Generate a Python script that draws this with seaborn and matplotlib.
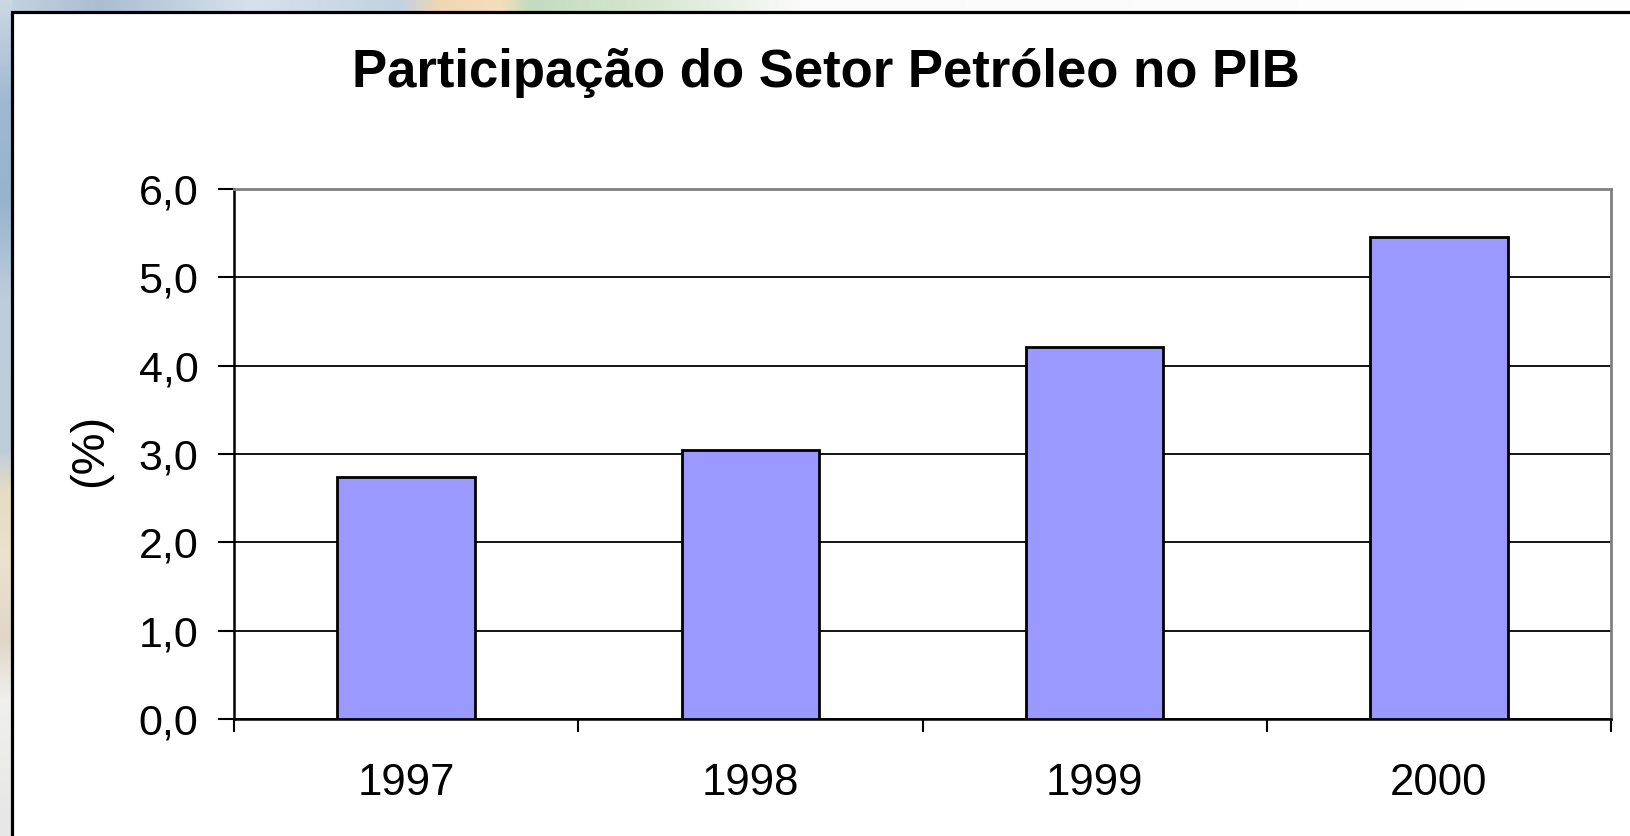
import numpy as np
import pandas as pd
import matplotlib
matplotlib.use("Agg")
import matplotlib.pyplot as plt
import matplotlib.patches as mpatches
from matplotlib.ticker import FuncFormatter, FixedLocator
import seaborn as sns

# ---- data ----
years = ["1997", "1998", "1999", "2000"]
values = [2.74, 3.05, 4.21, 5.46]
yticks = [0, 1, 2, 3, 4, 5, 6]
title = "Participação do Setor Petróleo no PIB"
ylabel = "(%)"

sns.set_theme(style="white")
plt.rcParams['font.family'] = ['Liberation Sans', 'DejaVu Sans']

W, H = 1630, 836
fig = plt.figure(figsize=(W / 100, H / 100), dpi=100)

# ---- background (slide-like gradient strips) ----
bg = np.ones((H, W, 3))
xs = np.arange(W)
ys = np.arange(H)
top_stops = [0, 100, 250, 400, 440, 500, 530, 650, 800, 1630]
top_cols = np.array([(200, 212, 225), (170, 190, 210), (215, 225, 235), (195, 210, 225),
                     (240, 215, 180), (245, 222, 188), (195, 220, 190), (215, 230, 210),
                     (250, 250, 250), (255, 255, 255)]) / 255
left_stops = [0, 100, 200, 300, 450, 490, 560, 640, 700, 836]
left_cols = np.array([(205, 215, 228), (160, 185, 210), (150, 180, 205), (190, 205, 220),
                      (190, 205, 218), (230, 220, 195), (235, 225, 205), (225, 215, 200),
                      (240, 240, 238), (230, 230, 230)]) / 255
for c in range(3):
    bg[:12, :, c] = np.interp(xs, top_stops, top_cols[:, c])[None, :]
    bg[:, :12, c] = np.interp(ys, left_stops, left_cols[:, c])[:, None]
bgax = fig.add_axes([0, 0, 1, 1], zorder=-10)
bgax.imshow(bg, aspect='auto', extent=[0, 1, 0, 1], origin='upper')
bgax.set_axis_off()

# white panel with black border
fig.patches.append(mpatches.Rectangle((11.5 / W, -0.2), 1.3, 1 - 11.5 / H + 0.2,
                                      transform=fig.transFigure, facecolor='white',
                                      edgecolor='black', linewidth=2.3, zorder=-5))

# ---- chart ----
ax = fig.add_axes([234 / W, 1 - 719 / H, (1611 - 234) / W, (719 - 189) / H])
ax.set_facecolor('white')
df = pd.DataFrame({"ano": years, "valor": values})
sns.barplot(data=df, x="ano", y="valor", color="#9999FF", saturation=1,
            edgecolor="black", linewidth=2.0, width=0.4, ax=ax, zorder=3)

ax.set_xlim(-0.5, len(years) - 0.5)
ax.set_ylim(0, 6)
ax.yaxis.set_major_locator(FixedLocator(yticks))
ax.yaxis.set_major_formatter(FuncFormatter(lambda v, p: f"{v:.1f}".replace('.', ',')))
ax.yaxis.grid(True, color='black', linewidth=1.3)
ax.set_axisbelow(True)

# x ticks: labels at centres, tick marks at category borders
ax.set_xticks(range(len(years)))
ax.set_xticklabels(years)
ax.xaxis.set_minor_locator(FixedLocator(np.arange(-0.5, len(years), 1.0)))
ax.tick_params(axis='x', which='major', length=0, pad=32, labelsize=31.5, labelcolor='black')
ax.tick_params(axis='x', which='minor', length=9, width=1.5, color='black', direction='out', bottom=True)
ax.tick_params(axis='y', which='major', length=11.5, width=1.5, color='black', direction='out',
               left=True, pad=14, labelsize=31, labelcolor='black')

for s in ['left', 'bottom']:
    ax.spines[s].set_color('black')
    ax.spines[s].set_linewidth(1.8)
for s in ['top', 'right']:
    ax.spines[s].set_color('#808080')
    ax.spines[s].set_linewidth(2.0)
    ax.spines[s].set_visible(True)

ax.set_xlabel("")
ax.set_ylabel("")
fig.text(90 / W, 1 - 450 / H, ylabel, rotation=90, ha='center', va='center', fontsize=34, color='black')
fig.text(826 / W, 1 - 87 / H, title, ha='center', va='baseline', fontsize=38, fontweight='bold', color='black')

fig.savefig("out.png", dpi=100)
